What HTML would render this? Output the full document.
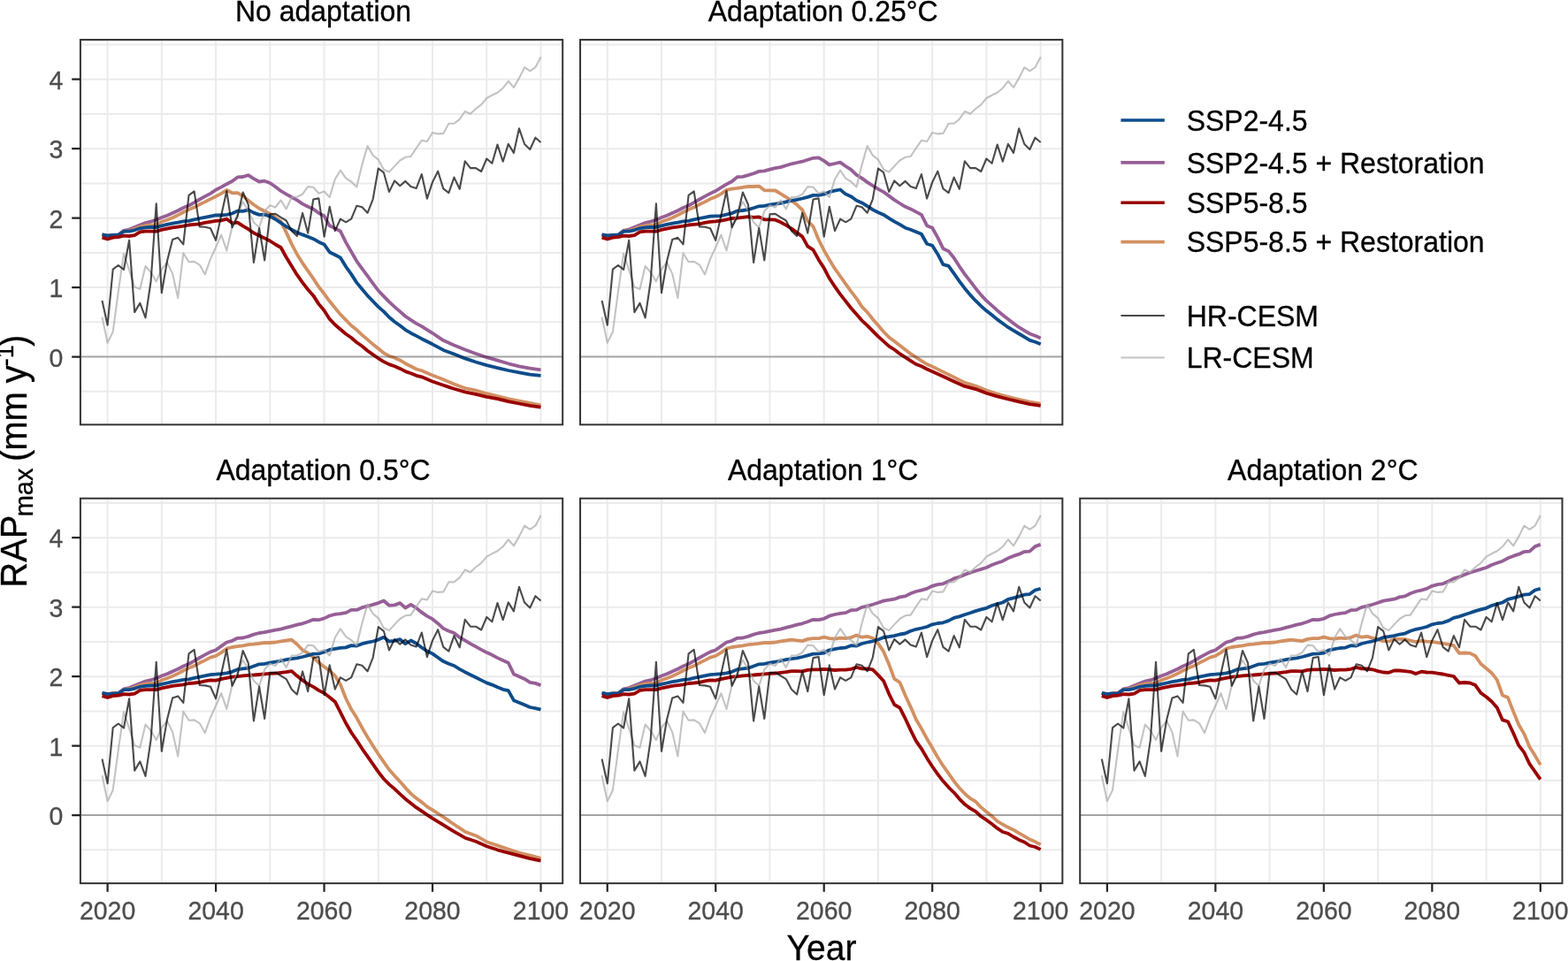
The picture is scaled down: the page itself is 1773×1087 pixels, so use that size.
<!DOCTYPE html><html><head><meta charset="utf-8"><style>html,body{margin:0;padding:0;background:#fff;}svg{display:block;}text{font-family:"Liberation Sans",Arial,sans-serif;stroke-width:0.3px;}</style></head><body>
<svg width="1773" height="1087" viewBox="0 0 1773 1087">
<rect width="1773" height="1087" fill="#fff"/>
<g>
<clipPath id="cp0"><rect x="90.9" y="44.94" width="545.3" height="435.4"/></clipPath>
<path d="M121.60,44.94V480.34M182.84,44.94V480.34M244.08,44.94V480.34M305.32,44.94V480.34M366.56,44.94V480.34M427.80,44.94V480.34M489.04,44.94V480.34M550.28,44.94V480.34M611.52,44.94V480.34M90.9,442.81H636.20M90.9,403.58H636.20M90.9,364.34H636.20M90.9,325.11H636.20M90.9,285.88H636.20M90.9,246.64H636.20M90.9,207.40H636.20M90.9,168.17H636.20M90.9,128.94H636.20M90.9,89.70H636.20M90.9,50.46H636.20" stroke="#ebebeb" stroke-width="2" fill="none"/>
<g clip-path="url(#cp0)" fill="none" stroke-linejoin="round" stroke-linecap="butt">
<polyline points="115.5,265.3 121.6,266.6 127.7,265.9 133.8,265.5 140.0,260.8 146.1,259.5 152.2,257.0 158.3,254.5 164.5,252.1 170.6,250.6 176.7,248.7 182.8,246.0 189.0,243.7 195.1,241.0 201.2,238.2 207.3,235.0 213.5,232.5 219.6,229.1 225.7,225.5 231.8,222.2 238.0,218.9 244.1,214.7 250.2,211.6 256.3,208.2 262.5,205.0 268.6,200.4 274.7,200.0 280.8,198.1 286.9,202.1 293.1,205.5 299.2,204.7 305.3,207.0 311.4,211.3 317.6,216.0 323.7,219.7 329.8,223.0 335.9,226.4 342.1,230.6 348.2,233.8 354.3,236.4 360.4,241.1 366.6,244.3 372.7,255.3 378.8,258.4 384.9,261.5 391.1,274.1 397.2,284.7 403.3,295.3 409.4,303.8 415.6,312.2 421.7,320.6 427.8,328.7 433.9,335.1 440.0,341.4 446.2,347.1 452.3,352.4 458.4,357.7 464.5,361.9 470.7,365.9 476.8,369.1 489.0,376.8 501.3,385.1 513.5,390.5 525.8,395.5 538.0,400.0 550.3,404.2 562.5,407.7 574.8,411.3 587.0,414.3 599.3,416.7 611.5,418.4" stroke="#965f96" stroke-width="3.8"/>
<polyline points="115.5,265.5 121.6,266.6 127.7,265.9 133.8,265.9 140.0,261.7 146.1,260.8 152.2,258.8 158.3,256.6 164.5,255.0 170.6,254.5 176.7,254.1 182.8,250.8 189.0,248.7 195.1,246.2 201.2,243.3 207.3,240.0 213.5,237.1 219.6,234.6 225.7,231.3 231.8,228.4 238.0,225.1 244.1,222.2 250.2,218.9 256.3,215.0 262.5,218.3 268.6,218.1 274.7,221.6 280.8,226.6 286.9,231.5 293.1,235.7 299.2,238.8 305.3,241.9 311.4,245.9 317.6,250.6 323.7,262.9 329.8,276.1 335.9,287.7 342.1,297.6 348.2,306.3 354.3,315.1 360.4,324.5 366.6,332.3 372.7,340.8 378.8,348.2 384.9,355.6 391.1,361.9 397.2,368.3 403.3,373.1 409.4,378.9 415.6,384.1 421.7,389.4 427.8,394.2 433.9,399.3 440.0,402.7 446.2,404.8 452.3,407.4 458.4,411.2 464.5,414.2 470.7,417.5 476.8,419.3 489.0,424.4 501.3,429.2 513.5,434.5 525.8,439.0 538.0,441.6 550.3,445.2 562.5,448.2 574.8,451.1 587.0,453.5 599.3,455.9 611.5,458.3" stroke="#d29062" stroke-width="3.8"/>
<polyline points="115.5,265.3 121.6,266.6 127.7,265.9 133.8,265.9 140.0,261.7 146.1,261.7 152.2,260.3 158.3,258.3 164.5,257.4 170.6,257.0 176.7,257.0 182.8,255.4 189.0,253.9 195.1,252.6 201.2,251.6 207.3,250.4 213.5,249.8 219.6,248.3 225.7,247.0 231.8,245.8 238.0,244.6 244.1,243.3 250.2,243.5 256.3,242.9 262.5,241.5 268.6,238.6 274.7,238.8 280.8,237.3 286.9,240.6 293.1,242.9 299.2,242.7 305.3,244.6 311.4,248.0 317.6,252.1 323.7,256.3 329.8,259.6 335.9,262.9 342.1,265.4 348.2,267.7 354.3,270.2 360.4,273.7 366.6,276.5 372.7,285.2 378.8,288.2 384.9,291.4 391.1,301.6 397.2,310.1 403.3,319.6 409.4,327.0 415.6,334.4 421.7,340.8 427.8,347.1 433.9,352.4 440.0,358.8 446.2,364.0 452.3,368.3 458.4,373.1 464.5,376.7 470.7,379.9 476.8,383.2 489.0,389.3 501.3,395.9 513.5,400.6 525.8,405.4 538.0,409.5 550.3,413.1 562.5,416.1 574.8,419.0 587.0,421.4 599.3,423.6 611.5,424.8" stroke="#0e4c8b" stroke-width="3.8"/>
<polyline points="115.5,268.6 121.6,270.5 127.7,268.6 133.8,268.2 140.0,266.7 146.1,267.0 152.2,266.1 158.3,262.4 164.5,261.7 170.6,261.7 176.7,261.7 182.8,259.9 189.0,258.6 195.1,257.4 201.2,256.6 207.3,255.7 213.5,254.5 219.6,253.9 225.7,253.3 231.8,251.8 238.0,250.8 244.1,249.8 250.2,249.3 256.3,247.7 262.5,252.3 268.6,251.7 274.7,255.7 280.8,259.2 286.9,263.5 293.1,266.6 299.2,269.4 305.3,272.5 311.4,276.5 317.6,280.0 323.7,291.0 329.8,301.0 335.9,310.9 342.1,319.6 348.2,327.5 354.3,334.4 360.4,343.9 366.6,351.3 372.7,360.9 378.8,367.2 384.9,372.5 391.1,377.8 397.2,382.0 403.3,387.3 409.4,391.5 415.6,396.8 421.7,401.1 427.8,405.3 433.9,409.1 440.0,412.1 446.2,414.2 452.3,416.9 458.4,420.1 464.5,422.2 470.7,424.8 476.8,426.3 489.0,431.5 501.3,435.7 513.5,439.8 525.8,443.4 538.0,445.8 550.3,448.8 562.5,451.1 574.8,454.1 587.0,456.5 599.3,458.9 611.5,460.6" stroke="#990000" stroke-width="3.8"/>
<polyline points="115.5,358.6 121.6,387.7 127.7,375.2 133.8,329.6 140.0,286.7 146.1,305.5 152.2,324.6 158.3,327.1 164.5,301.0 170.6,308.0 176.7,318.4 182.8,304.7 189.0,296.9 195.1,309.6 201.2,336.9 207.3,286.3 213.5,296.3 219.6,295.9 225.7,299.6 231.8,310.4 238.0,292.9 244.1,279.7 250.2,265.6 256.3,283.5 262.5,256.4 268.6,242.3 274.7,228.2 280.8,238.2 286.9,251.4 293.1,257.2 299.2,238.8 305.3,232.3 311.4,234.5 317.6,226.5 323.7,236.4 329.8,223.0 335.9,222.7 342.1,219.7 348.2,211.1 354.3,211.8 360.4,218.8 366.6,216.5 372.7,223.1 378.8,202.7 384.9,192.7 391.1,201.7 397.2,205.5 403.3,211.6 409.4,186.4 415.6,165.1 421.7,175.6 427.8,180.6 433.9,191.7 440.0,194.5 446.2,187.9 452.3,181.5 458.4,177.8 464.5,177.0 470.7,167.6 476.8,158.8 482.9,160.0 489.0,150.0 495.2,151.4 501.3,150.9 507.4,139.8 513.5,139.8 519.7,134.9 525.8,126.0 531.9,128.8 538.0,123.0 544.2,118.3 550.3,111.0 556.4,107.7 562.5,104.8 568.7,99.7 574.8,91.8 580.9,98.9 587.0,88.4 593.1,76.2 599.3,80.3 605.4,76.2 611.5,64.6" stroke="#aaaaaa" stroke-opacity="0.7" stroke-width="2.1"/>
<polyline points="115.5,340.0 121.6,367.7 127.7,304.7 133.8,300.0 140.0,305.0 146.1,271.8 152.2,353.1 158.3,342.8 164.5,359.4 170.6,318.0 176.7,230.2 182.8,331.2 189.0,295.3 195.1,271.0 201.2,268.8 207.3,276.4 213.5,220.8 219.6,216.4 225.7,256.4 231.8,256.8 238.0,258.2 244.1,271.8 250.2,243.5 256.3,216.0 262.5,257.2 268.6,244.8 274.7,217.5 280.8,231.5 286.9,297.0 293.1,258.0 299.2,294.5 305.3,242.2 311.4,241.9 317.6,245.9 323.7,249.5 329.8,261.2 335.9,267.0 342.1,240.9 348.2,263.7 354.3,225.5 360.4,224.4 366.6,267.7 372.7,233.7 378.8,261.1 384.9,247.7 391.1,251.3 397.2,247.7 403.3,232.8 409.4,234.2 415.6,240.8 421.7,225.3 427.8,190.5 433.9,195.2 440.0,217.0 446.2,204.4 452.3,210.2 458.4,204.9 464.5,211.1 470.7,213.1 476.8,197.0 482.9,224.6 489.0,206.1 495.2,193.7 501.3,213.4 507.4,218.2 513.5,200.6 519.7,213.8 525.8,182.3 531.9,190.1 538.0,190.1 544.2,194.0 550.3,179.5 556.4,184.8 562.5,163.6 568.7,182.7 574.8,162.9 580.9,172.9 587.0,145.3 593.1,163.0 599.3,169.0 605.4,155.7 611.5,161.0" stroke="#000000" stroke-opacity="0.71" stroke-width="2.1"/>
</g>
<path d="M90.9,403.58H636.20" stroke="#000" stroke-opacity="0.3" stroke-width="2" fill="none"/>
<rect x="90.9" y="44.94" width="545.3" height="435.4" fill="none" stroke="#333" stroke-width="2"/>
<text transform="translate(365.5,24.3) scale(1,1.04)" font-size="32" text-anchor="middle" fill="#000" stroke="#000">No adaptation</text>
<text transform="translate(71.4,414.8) scale(1,1.035)" font-size="28.5" text-anchor="end" fill="#4d4d4d" stroke="#4d4d4d">0</text>
<text transform="translate(71.4,336.3) scale(1,1.035)" font-size="28.5" text-anchor="end" fill="#4d4d4d" stroke="#4d4d4d">1</text>
<text transform="translate(71.4,257.8) scale(1,1.035)" font-size="28.5" text-anchor="end" fill="#4d4d4d" stroke="#4d4d4d">2</text>
<text transform="translate(71.4,179.4) scale(1,1.035)" font-size="28.5" text-anchor="end" fill="#4d4d4d" stroke="#4d4d4d">3</text>
<text transform="translate(71.4,100.9) scale(1,1.035)" font-size="28.5" text-anchor="end" fill="#4d4d4d" stroke="#4d4d4d">4</text>
<path d="M81.2,403.58H90.9M81.2,325.11H90.9M81.2,246.64H90.9M81.2,168.17H90.9M81.2,89.70H90.9" stroke="#222" stroke-width="2.2"/>
</g>
<g>
<clipPath id="cp1"><rect x="656.05" y="44.94" width="545.3" height="435.4"/></clipPath>
<path d="M686.75,44.94V480.34M747.99,44.94V480.34M809.23,44.94V480.34M870.47,44.94V480.34M931.71,44.94V480.34M992.95,44.94V480.34M1054.19,44.94V480.34M1115.43,44.94V480.34M1176.67,44.94V480.34M656.05,442.81H1201.35M656.05,403.58H1201.35M656.05,364.34H1201.35M656.05,325.11H1201.35M656.05,285.88H1201.35M656.05,246.64H1201.35M656.05,207.40H1201.35M656.05,168.17H1201.35M656.05,128.94H1201.35M656.05,89.70H1201.35M656.05,50.46H1201.35" stroke="#ebebeb" stroke-width="2" fill="none"/>
<g clip-path="url(#cp1)" fill="none" stroke-linejoin="round" stroke-linecap="butt">
<polyline points="680.6,265.3 686.8,266.6 692.9,265.9 699.0,265.5 705.1,260.8 711.2,259.5 717.4,257.0 723.5,254.5 729.6,252.1 735.7,250.6 741.9,248.7 748.0,246.0 754.1,243.7 760.2,241.0 766.4,238.2 772.5,235.0 778.6,232.5 784.7,229.1 790.9,225.5 797.0,222.2 803.1,218.9 809.2,216.0 815.4,212.1 821.5,208.4 827.6,205.2 833.7,200.1 839.9,199.8 846.0,198.1 852.1,196.2 858.2,193.9 864.3,193.4 870.5,191.7 876.6,190.1 882.7,189.1 888.8,187.2 895.0,185.3 901.1,184.0 907.2,182.7 913.3,180.8 919.5,178.8 925.6,178.4 931.7,181.9 937.8,186.4 944.0,185.0 950.1,183.6 956.2,188.0 962.3,191.9 968.5,197.8 974.6,201.6 980.7,206.1 986.8,210.0 993.0,213.8 999.1,217.1 1005.2,221.6 1011.3,226.1 1017.4,230.0 1023.6,233.8 1029.7,236.4 1035.8,239.7 1041.9,242.9 1048.1,255.2 1054.2,257.8 1060.3,268.6 1066.4,281.2 1072.6,284.1 1078.7,291.8 1084.8,301.3 1090.9,310.1 1097.1,318.2 1103.2,326.2 1109.3,333.6 1115.4,340.2 1121.6,345.7 1127.7,351.2 1133.8,356.3 1139.9,361.0 1146.0,365.8 1152.2,370.2 1158.3,373.9 1164.4,377.5 1170.5,379.7 1176.7,382.4" stroke="#965f96" stroke-width="3.8"/>
<polyline points="680.6,265.5 686.8,266.6 692.9,265.9 699.0,265.9 705.1,261.7 711.2,260.8 717.4,258.8 723.5,256.6 729.6,255.0 735.7,254.5 741.9,254.1 748.0,250.8 754.1,248.7 760.2,246.2 766.4,243.3 772.5,240.0 778.6,237.1 784.7,234.6 790.9,231.3 797.0,228.4 803.1,225.1 809.2,222.7 815.4,219.3 821.5,214.9 827.6,213.6 833.7,212.9 839.9,211.9 846.0,211.0 852.1,211.0 858.2,210.6 864.3,215.3 870.5,215.3 876.6,215.5 882.7,219.1 888.8,222.9 895.0,226.9 901.1,231.6 907.2,237.4 913.3,250.2 919.5,256.1 925.6,271.0 931.7,283.1 937.8,293.7 944.0,303.9 950.1,312.5 956.2,321.1 962.3,329.7 968.5,337.6 974.6,346.9 980.7,353.2 986.8,361.0 993.0,368.1 999.1,375.2 1005.2,381.5 1011.3,386.1 1017.4,390.8 1023.6,395.5 1029.7,400.2 1035.8,404.1 1041.9,408.1 1048.1,412.0 1054.2,414.6 1066.4,420.6 1078.7,426.6 1090.9,432.9 1103.2,436.5 1115.4,441.6 1127.7,445.6 1139.9,448.8 1152.2,451.9 1164.4,454.7 1176.7,456.7" stroke="#d29062" stroke-width="3.8"/>
<polyline points="680.6,265.3 686.8,266.6 692.9,265.9 699.0,265.9 705.1,261.7 711.2,261.7 717.4,260.3 723.5,258.3 729.6,257.4 735.7,257.0 741.9,257.0 748.0,255.4 754.1,253.9 760.2,252.6 766.4,251.6 772.5,250.4 778.6,249.8 784.7,248.3 790.9,247.0 797.0,245.8 803.1,244.6 809.2,244.3 815.4,244.1 821.5,242.6 827.6,241.2 833.7,238.6 839.9,238.0 846.0,237.1 852.1,235.2 858.2,233.3 864.3,232.9 870.5,231.6 876.6,230.7 882.7,229.9 888.8,228.4 895.0,226.9 901.1,225.8 907.2,224.5 913.3,222.9 919.5,220.9 925.6,220.9 931.7,219.7 937.8,217.2 944.0,215.7 950.1,214.5 956.2,219.6 962.3,222.2 968.5,226.8 974.6,229.4 980.7,233.2 986.8,237.1 993.0,240.3 999.1,242.9 1005.2,246.8 1011.3,250.6 1017.4,253.9 1023.6,257.7 1029.7,259.7 1035.8,262.3 1041.9,264.8 1048.1,275.8 1054.2,277.8 1060.3,287.4 1066.4,299.1 1072.6,300.9 1078.7,309.4 1084.8,318.2 1090.9,326.2 1097.1,333.6 1103.2,340.2 1109.3,346.1 1115.4,351.6 1121.6,356.3 1127.7,361.4 1133.8,365.8 1139.9,370.2 1146.0,373.9 1152.2,377.5 1158.3,381.2 1164.4,384.9 1170.5,386.8 1176.7,389.3" stroke="#0e4c8b" stroke-width="3.8"/>
<polyline points="680.6,268.6 686.8,270.5 692.9,268.6 699.0,268.2 705.1,266.7 711.2,267.0 717.4,266.1 723.5,262.4 729.6,261.7 735.7,261.7 741.9,261.7 748.0,259.9 754.1,258.6 760.2,257.4 766.4,256.6 772.5,255.7 778.6,254.5 784.7,253.9 790.9,253.3 797.0,251.8 803.1,250.8 809.2,250.3 815.4,249.6 821.5,248.3 827.6,247.0 833.7,246.6 839.9,245.8 846.0,245.1 852.1,245.8 858.2,245.4 864.3,248.3 870.5,248.3 876.6,248.7 882.7,251.3 888.8,254.7 895.0,258.6 901.1,263.1 907.2,267.6 913.3,278.6 919.5,282.6 925.6,293.7 931.7,303.1 937.8,314.8 944.0,324.2 950.1,332.9 956.2,340.7 962.3,348.5 968.5,355.6 974.6,362.6 980.7,368.1 986.8,374.4 993.0,380.7 999.1,386.1 1005.2,391.6 1011.3,395.5 1017.4,400.2 1023.6,404.1 1029.7,408.1 1035.8,412.0 1041.9,414.3 1048.1,417.5 1054.2,420.2 1066.4,425.8 1078.7,431.4 1090.9,436.9 1103.2,440.1 1115.4,444.8 1127.7,448.4 1139.9,451.5 1152.2,454.3 1164.4,457.1 1176.7,458.9" stroke="#990000" stroke-width="3.8"/>
<polyline points="680.6,358.6 686.8,387.7 692.9,375.2 699.0,329.6 705.1,286.7 711.2,305.5 717.4,324.6 723.5,327.1 729.6,301.0 735.7,308.0 741.9,318.4 748.0,304.7 754.1,296.9 760.2,309.6 766.4,336.9 772.5,286.3 778.6,296.3 784.7,295.9 790.9,299.6 797.0,310.4 803.1,292.9 809.2,279.7 815.4,265.6 821.5,283.5 827.6,256.4 833.7,242.3 839.9,228.2 846.0,238.2 852.1,251.4 858.2,257.2 864.3,238.8 870.5,232.3 876.6,234.5 882.7,226.5 888.8,236.4 895.0,223.0 901.1,222.7 907.2,219.7 913.3,211.1 919.5,211.8 925.6,218.8 931.7,216.5 937.8,223.1 944.0,202.7 950.1,192.7 956.2,201.7 962.3,205.5 968.5,211.6 974.6,186.4 980.7,165.1 986.8,175.6 993.0,180.6 999.1,191.7 1005.2,194.5 1011.3,187.9 1017.4,181.5 1023.6,177.8 1029.7,177.0 1035.8,167.6 1041.9,158.8 1048.1,160.0 1054.2,150.0 1060.3,151.4 1066.4,150.9 1072.6,139.8 1078.7,139.8 1084.8,134.9 1090.9,126.0 1097.1,128.8 1103.2,123.0 1109.3,118.3 1115.4,111.0 1121.6,107.7 1127.7,104.8 1133.8,99.7 1139.9,91.8 1146.0,98.9 1152.2,88.4 1158.3,76.2 1164.4,80.3 1170.5,76.2 1176.7,64.6" stroke="#aaaaaa" stroke-opacity="0.7" stroke-width="2.1"/>
<polyline points="680.6,340.0 686.8,367.7 692.9,304.7 699.0,300.0 705.1,305.0 711.2,271.8 717.4,353.1 723.5,342.8 729.6,359.4 735.7,318.0 741.9,230.2 748.0,331.2 754.1,295.3 760.2,271.0 766.4,268.8 772.5,276.4 778.6,220.8 784.7,216.4 790.9,256.4 797.0,256.8 803.1,258.2 809.2,271.8 815.4,243.5 821.5,216.0 827.6,257.2 833.7,244.8 839.9,217.5 846.0,231.5 852.1,297.0 858.2,258.0 864.3,294.5 870.5,242.2 876.6,241.9 882.7,245.9 888.8,249.5 895.0,261.2 901.1,267.0 907.2,240.9 913.3,263.7 919.5,225.5 925.6,224.4 931.7,267.7 937.8,233.7 944.0,261.1 950.1,247.7 956.2,251.3 962.3,247.7 968.5,232.8 974.6,234.2 980.7,240.8 986.8,225.3 993.0,190.5 999.1,195.2 1005.2,217.0 1011.3,204.4 1017.4,210.2 1023.6,204.9 1029.7,211.1 1035.8,213.1 1041.9,197.0 1048.1,224.6 1054.2,206.1 1060.3,193.7 1066.4,213.4 1072.6,218.2 1078.7,200.6 1084.8,213.8 1090.9,182.3 1097.1,190.1 1103.2,190.1 1109.3,194.0 1115.4,179.5 1121.6,184.8 1127.7,163.6 1133.8,182.7 1139.9,162.9 1146.0,172.9 1152.2,145.3 1158.3,163.0 1164.4,169.0 1170.5,155.7 1176.7,161.0" stroke="#000000" stroke-opacity="0.71" stroke-width="2.1"/>
</g>
<path d="M656.05,403.58H1201.35" stroke="#000" stroke-opacity="0.3" stroke-width="2" fill="none"/>
<rect x="656.05" y="44.94" width="545.3" height="435.4" fill="none" stroke="#333" stroke-width="2"/>
<text transform="translate(930.7,24.3) scale(1,1.04)" font-size="32" text-anchor="middle" fill="#000" stroke="#000">Adaptation 0.25°C</text>
</g>
<g>
<clipPath id="cp2"><rect x="90.9" y="563.74" width="545.3" height="435.4"/></clipPath>
<path d="M121.60,563.74V999.14M182.84,563.74V999.14M244.08,563.74V999.14M305.32,563.74V999.14M366.56,563.74V999.14M427.80,563.74V999.14M489.04,563.74V999.14M550.28,563.74V999.14M611.52,563.74V999.14M90.9,961.34H636.20M90.9,922.10H636.20M90.9,882.87H636.20M90.9,843.63H636.20M90.9,804.39H636.20M90.9,765.16H636.20M90.9,725.92H636.20M90.9,686.69H636.20M90.9,647.46H636.20M90.9,608.22H636.20M90.9,568.99H636.20" stroke="#ebebeb" stroke-width="2" fill="none"/>
<g clip-path="url(#cp2)" fill="none" stroke-linejoin="round" stroke-linecap="butt">
<polyline points="115.5,783.8 121.6,785.1 127.7,784.4 133.8,784.0 140.0,779.3 146.1,778.0 152.2,775.5 158.3,773.0 164.5,770.6 170.6,769.2 176.7,767.2 182.8,764.5 189.0,762.3 195.1,759.5 201.2,756.7 207.3,753.5 213.5,751.0 219.6,747.6 225.7,744.0 231.8,740.7 238.0,737.4 244.1,735.3 250.2,730.9 256.3,726.5 262.5,724.8 268.6,721.8 274.7,721.5 280.8,719.9 286.9,717.6 293.1,716.0 299.2,715.2 305.3,713.8 311.4,712.7 317.6,711.6 323.7,709.9 329.8,708.3 335.9,706.6 342.1,705.3 348.2,703.2 354.3,700.8 360.4,701.2 366.6,699.4 372.7,696.5 378.8,694.9 384.9,694.1 391.1,693.1 397.2,689.9 403.3,689.9 409.4,687.2 415.6,685.7 421.7,683.9 427.8,682.1 433.9,679.5 440.0,684.8 446.2,684.4 452.3,682.1 458.4,687.6 464.5,683.9 470.7,687.6 476.8,692.7 482.9,696.8 489.0,700.2 495.2,705.2 501.3,710.9 507.4,713.8 513.5,716.0 519.7,721.0 525.8,724.3 531.9,728.1 538.0,731.4 544.2,734.8 550.3,738.1 556.4,740.8 562.5,744.1 568.7,747.0 574.8,749.7 580.9,762.4 587.0,765.2 593.1,767.9 599.3,771.8 605.4,772.9 611.5,775.1" stroke="#965f96" stroke-width="3.8"/>
<polyline points="115.5,784.0 121.6,785.1 127.7,784.4 133.8,784.4 140.0,780.2 146.1,779.3 152.2,777.3 158.3,775.1 164.5,773.5 170.6,773.0 176.7,772.6 182.8,769.3 189.0,767.2 195.1,764.8 201.2,761.9 207.3,758.5 213.5,755.6 219.6,753.2 225.7,749.8 231.8,746.9 238.0,743.6 244.1,741.9 250.2,738.1 256.3,733.7 262.5,732.0 268.6,731.1 274.7,730.3 280.8,729.2 286.9,728.7 293.1,727.8 299.2,727.0 305.3,727.0 311.4,726.5 317.6,725.4 323.7,724.5 329.8,723.7 335.9,728.7 342.1,735.3 348.2,738.6 354.3,743.6 360.4,749.5 366.6,754.2 372.7,758.6 378.8,764.4 384.9,774.3 391.1,790.0 397.2,802.3 403.3,811.8 409.4,823.2 415.6,833.7 421.7,843.4 427.8,853.0 433.9,861.8 440.0,870.5 446.2,877.5 452.3,884.1 458.4,891.1 464.5,897.6 470.7,902.9 476.8,907.3 482.9,912.4 489.0,916.2 501.3,924.1 513.5,932.5 525.8,940.7 538.0,945.2 550.3,952.2 562.5,956.4 574.8,960.5 587.0,964.6 599.3,967.5 611.5,970.8" stroke="#d29062" stroke-width="3.8"/>
<polyline points="115.5,783.8 121.6,785.1 127.7,784.4 133.8,784.4 140.0,780.2 146.1,780.2 152.2,778.8 158.3,776.8 164.5,775.9 170.6,775.5 176.7,775.5 182.8,773.9 189.0,772.5 195.1,771.1 201.2,770.1 207.3,768.9 213.5,768.3 219.6,766.8 225.7,765.6 231.8,764.3 238.0,763.1 244.1,762.7 250.2,762.1 256.3,761.3 262.5,759.8 268.6,757.2 274.7,756.3 280.8,755.7 286.9,753.5 293.1,751.3 299.2,750.8 305.3,749.7 311.4,748.6 317.6,747.5 323.7,746.2 329.8,745.2 335.9,744.4 342.1,743.0 348.2,741.4 354.3,739.7 360.4,739.4 366.6,737.5 372.7,734.9 378.8,733.8 384.9,732.8 391.1,732.4 397.2,730.1 403.3,730.6 409.4,728.2 415.6,726.6 421.7,725.5 427.8,723.6 433.9,720.8 440.0,725.5 446.2,724.8 452.3,723.2 458.4,728.2 464.5,724.5 470.7,727.8 476.8,732.4 482.9,736.5 489.0,739.4 495.2,743.7 501.3,748.1 507.4,750.8 513.5,753.0 519.7,756.8 525.8,760.2 531.9,763.2 538.0,766.3 544.2,769.4 550.3,772.4 556.4,774.6 562.5,777.3 568.7,779.8 574.8,781.2 580.9,792.2 587.0,794.7 593.1,797.2 599.3,800.0 605.4,801.1 611.5,802.7" stroke="#0e4c8b" stroke-width="3.8"/>
<polyline points="115.5,787.1 121.6,789.0 127.7,787.1 133.8,786.7 140.0,785.2 146.1,785.5 152.2,784.6 158.3,780.9 164.5,780.2 170.6,780.2 176.7,780.2 182.8,778.4 189.0,777.2 195.1,775.9 201.2,775.1 207.3,774.3 213.5,773.0 219.6,772.5 225.7,771.8 231.8,770.3 238.0,769.3 244.1,769.6 250.2,768.2 256.3,766.8 262.5,765.7 268.6,765.2 274.7,764.3 280.8,763.8 286.9,763.5 293.1,763.0 299.2,762.4 305.3,761.9 311.4,761.6 317.6,760.8 323.7,760.2 329.8,759.1 335.9,764.6 342.1,769.4 348.2,773.8 354.3,776.9 360.4,780.9 366.6,784.1 372.7,788.7 378.8,793.7 384.9,805.7 391.1,818.0 397.2,828.5 403.3,837.3 409.4,846.8 415.6,855.6 421.7,864.3 427.8,873.1 433.9,881.0 440.0,887.1 446.2,892.4 452.3,898.2 458.4,903.7 464.5,908.6 470.7,913.4 476.8,917.4 482.9,921.6 489.0,925.7 501.3,933.2 513.5,940.7 525.8,947.7 538.0,951.8 550.3,957.2 562.5,961.3 574.8,964.6 587.0,967.9 599.3,971.2 611.5,973.7" stroke="#990000" stroke-width="3.8"/>
<polyline points="115.5,877.1 121.6,906.2 127.7,893.7 133.8,848.1 140.0,805.2 146.1,824.0 152.2,843.1 158.3,845.6 164.5,819.5 170.6,826.5 176.7,837.0 182.8,823.2 189.0,815.4 195.1,828.1 201.2,855.4 207.3,804.9 213.5,814.8 219.6,814.4 225.7,818.1 231.8,828.9 238.0,811.5 244.1,798.2 250.2,784.1 256.3,802.0 262.5,775.0 268.6,760.8 274.7,746.7 280.8,756.7 286.9,769.9 293.1,775.8 299.2,757.3 305.3,750.8 311.4,753.0 317.6,745.0 323.7,754.9 329.8,741.5 335.9,741.2 342.1,738.2 348.2,729.6 354.3,730.3 360.4,737.3 366.6,735.0 372.7,741.6 378.8,721.2 384.9,711.2 391.1,720.2 397.2,724.0 403.3,730.1 409.4,704.9 415.6,683.6 421.7,694.1 427.8,699.1 433.9,710.2 440.0,713.1 446.2,706.4 452.3,700.0 458.4,696.3 464.5,695.6 470.7,686.1 476.8,677.4 482.9,678.5 489.0,668.5 495.2,669.9 501.3,669.4 507.4,658.4 513.5,658.4 519.7,653.4 525.8,644.5 531.9,647.3 538.0,641.5 544.2,636.9 550.3,629.6 556.4,626.3 562.5,623.3 568.7,618.3 574.8,610.3 580.9,617.4 587.0,606.9 593.1,594.7 599.3,598.8 605.4,594.7 611.5,583.1" stroke="#aaaaaa" stroke-opacity="0.7" stroke-width="2.1"/>
<polyline points="115.5,858.5 121.6,886.2 127.7,823.2 133.8,818.5 140.0,823.5 146.1,790.3 152.2,871.6 158.3,861.4 164.5,877.9 170.6,836.6 176.7,748.7 182.8,849.8 189.0,813.8 195.1,789.6 201.2,787.4 207.3,794.9 213.5,739.3 219.6,734.9 225.7,775.0 231.8,775.4 238.0,776.7 244.1,790.3 250.2,762.0 256.3,734.6 262.5,775.8 268.6,763.4 274.7,736.0 280.8,750.0 286.9,815.5 293.1,776.5 299.2,813.0 305.3,760.7 311.4,760.5 317.6,764.4 323.7,768.1 329.8,779.7 335.9,785.5 342.1,759.4 348.2,782.2 354.3,744.1 360.4,743.0 366.6,786.2 372.7,752.2 378.8,779.6 384.9,766.3 391.1,769.9 397.2,766.3 403.3,751.3 409.4,752.7 415.6,759.3 421.7,743.8 427.8,709.1 433.9,713.8 440.0,735.5 446.2,722.9 452.3,728.7 458.4,723.4 464.5,729.6 470.7,731.6 476.8,715.5 482.9,743.1 489.0,724.6 495.2,712.2 501.3,731.9 507.4,736.7 513.5,719.1 519.7,732.3 525.8,700.8 531.9,708.7 538.0,708.7 544.2,712.5 550.3,698.0 556.4,703.3 562.5,682.1 568.7,701.2 574.8,681.4 580.9,691.4 587.0,663.8 593.1,681.5 599.3,687.5 605.4,674.2 611.5,679.5" stroke="#000000" stroke-opacity="0.71" stroke-width="2.1"/>
</g>
<path d="M90.9,922.10H636.20" stroke="#000" stroke-opacity="0.3" stroke-width="2" fill="none"/>
<rect x="90.9" y="563.74" width="545.3" height="435.4" fill="none" stroke="#333" stroke-width="2"/>
<text transform="translate(365.5,543.1) scale(1,1.04)" font-size="32" text-anchor="middle" fill="#000" stroke="#000">Adaptation 0.5°C</text>
<text transform="translate(71.4,933.3) scale(1,1.035)" font-size="28.5" text-anchor="end" fill="#4d4d4d" stroke="#4d4d4d">0</text>
<text transform="translate(71.4,854.8) scale(1,1.035)" font-size="28.5" text-anchor="end" fill="#4d4d4d" stroke="#4d4d4d">1</text>
<text transform="translate(71.4,776.4) scale(1,1.035)" font-size="28.5" text-anchor="end" fill="#4d4d4d" stroke="#4d4d4d">2</text>
<text transform="translate(71.4,697.9) scale(1,1.035)" font-size="28.5" text-anchor="end" fill="#4d4d4d" stroke="#4d4d4d">3</text>
<text transform="translate(71.4,619.4) scale(1,1.035)" font-size="28.5" text-anchor="end" fill="#4d4d4d" stroke="#4d4d4d">4</text>
<path d="M81.2,922.10H90.9M81.2,843.63H90.9M81.2,765.16H90.9M81.2,686.69H90.9M81.2,608.22H90.9" stroke="#222" stroke-width="2.2"/>
<text transform="translate(121.6,1039.9) scale(1,1.035)" font-size="28.5" text-anchor="middle" fill="#4d4d4d" stroke="#4d4d4d">2020</text>
<text transform="translate(244.1,1039.9) scale(1,1.035)" font-size="28.5" text-anchor="middle" fill="#4d4d4d" stroke="#4d4d4d">2040</text>
<text transform="translate(366.6,1039.9) scale(1,1.035)" font-size="28.5" text-anchor="middle" fill="#4d4d4d" stroke="#4d4d4d">2060</text>
<text transform="translate(489.0,1039.9) scale(1,1.035)" font-size="28.5" text-anchor="middle" fill="#4d4d4d" stroke="#4d4d4d">2080</text>
<text transform="translate(611.5,1039.9) scale(1,1.035)" font-size="28.5" text-anchor="middle" fill="#4d4d4d" stroke="#4d4d4d">2100</text>
<path d="M121.60,999.14v9.7M244.08,999.14v9.7M366.56,999.14v9.7M489.04,999.14v9.7M611.52,999.14v9.7" stroke="#222" stroke-width="2.2"/>
</g>
<g>
<clipPath id="cp3"><rect x="656.05" y="563.74" width="545.3" height="435.4"/></clipPath>
<path d="M686.75,563.74V999.14M747.99,563.74V999.14M809.23,563.74V999.14M870.47,563.74V999.14M931.71,563.74V999.14M992.95,563.74V999.14M1054.19,563.74V999.14M1115.43,563.74V999.14M1176.67,563.74V999.14M656.05,961.34H1201.35M656.05,922.10H1201.35M656.05,882.87H1201.35M656.05,843.63H1201.35M656.05,804.39H1201.35M656.05,765.16H1201.35M656.05,725.92H1201.35M656.05,686.69H1201.35M656.05,647.46H1201.35M656.05,608.22H1201.35M656.05,568.99H1201.35" stroke="#ebebeb" stroke-width="2" fill="none"/>
<g clip-path="url(#cp3)" fill="none" stroke-linejoin="round" stroke-linecap="butt">
<polyline points="680.6,783.8 686.8,785.1 692.9,784.4 699.0,784.0 705.1,779.3 711.2,778.0 717.4,775.5 723.5,773.0 729.6,770.6 735.7,769.2 741.9,767.2 748.0,764.5 754.1,762.3 760.2,759.5 766.4,756.7 772.5,753.5 778.6,751.0 784.7,747.6 790.9,744.0 797.0,740.7 803.1,737.4 809.2,735.3 815.4,730.9 821.5,726.5 827.6,724.8 833.7,721.8 839.9,721.5 846.0,719.9 852.1,717.6 858.2,716.0 864.3,715.2 870.5,713.8 876.6,712.7 882.7,711.6 888.8,709.9 895.0,708.3 901.1,706.6 907.2,705.3 913.3,703.2 919.5,700.8 925.6,701.2 931.7,699.8 937.8,696.7 944.0,695.0 950.1,693.9 956.2,693.1 962.3,690.2 968.5,689.9 974.6,686.9 980.7,685.6 986.8,683.7 993.0,681.8 999.1,679.6 1005.2,678.7 1011.3,677.7 1017.4,675.4 1023.6,674.4 1029.7,671.2 1035.8,669.0 1041.9,667.6 1048.1,665.9 1054.2,662.8 1060.3,661.1 1066.4,660.3 1072.6,657.6 1078.7,654.3 1084.8,652.6 1090.9,649.9 1097.1,647.7 1103.2,645.7 1109.3,643.9 1115.4,642.0 1121.6,639.0 1127.7,636.8 1133.8,634.7 1139.9,631.3 1146.0,628.9 1152.2,626.9 1158.3,624.1 1164.4,623.6 1170.5,618.1 1176.7,615.9" stroke="#965f96" stroke-width="3.8"/>
<polyline points="680.6,784.0 686.8,785.1 692.9,784.4 699.0,784.4 705.1,780.2 711.2,779.3 717.4,777.3 723.5,775.1 729.6,773.5 735.7,773.0 741.9,772.6 748.0,769.3 754.1,767.2 760.2,764.8 766.4,761.9 772.5,758.5 778.6,755.6 784.7,753.2 790.9,749.8 797.0,746.9 803.1,743.6 809.2,741.9 815.4,738.1 821.5,733.7 827.6,732.0 833.7,731.1 839.9,730.3 846.0,729.2 852.1,728.7 858.2,727.8 864.3,727.0 870.5,727.0 876.6,726.5 882.7,725.4 888.8,724.5 895.0,723.7 901.1,724.3 907.2,725.1 913.3,722.9 919.5,722.1 925.6,722.1 931.7,720.6 937.8,722.1 944.0,722.6 950.1,721.7 956.2,722.1 962.3,721.1 968.5,718.6 974.6,720.7 980.7,719.9 986.8,721.7 993.0,727.9 999.1,736.9 1005.2,751.4 1011.3,767.9 1017.4,771.8 1023.6,786.5 1029.7,799.6 1035.8,813.7 1041.9,824.1 1048.1,835.5 1054.2,846.0 1060.3,856.5 1066.4,866.2 1072.6,874.9 1078.7,883.6 1084.8,891.3 1090.9,897.7 1097.1,903.1 1103.2,906.7 1109.3,913.1 1115.4,918.2 1121.6,923.2 1127.7,928.8 1133.8,932.5 1139.9,935.8 1146.0,938.7 1152.2,942.4 1158.3,945.8 1164.4,949.5 1170.5,952.1 1176.7,955.4" stroke="#d29062" stroke-width="3.8"/>
<polyline points="680.6,783.8 686.8,785.1 692.9,784.4 699.0,784.4 705.1,780.2 711.2,780.2 717.4,778.8 723.5,776.8 729.6,775.9 735.7,775.5 741.9,775.5 748.0,773.9 754.1,772.5 760.2,771.1 766.4,770.1 772.5,768.9 778.6,768.3 784.7,766.8 790.9,765.6 797.0,764.3 803.1,763.1 809.2,762.7 815.4,762.1 821.5,761.3 827.6,759.8 833.7,757.2 839.9,756.3 846.0,755.7 852.1,753.5 858.2,751.3 864.3,750.8 870.5,749.7 876.6,748.6 882.7,747.5 888.8,746.2 895.0,745.2 901.1,744.4 907.2,743.0 913.3,741.4 919.5,739.7 925.6,739.4 931.7,738.5 937.8,735.3 944.0,734.1 950.1,733.0 956.2,732.6 962.3,730.2 968.5,730.6 974.6,728.0 980.7,726.5 986.8,725.3 993.0,723.5 999.1,721.0 1005.2,720.1 1011.3,719.1 1017.4,717.5 1023.6,716.5 1029.7,713.7 1035.8,711.8 1041.9,710.5 1048.1,709.0 1054.2,706.3 1060.3,705.0 1066.4,704.3 1072.6,702.1 1078.7,698.8 1084.8,697.4 1090.9,695.2 1097.1,693.3 1103.2,691.1 1109.3,689.4 1115.4,687.8 1121.6,685.0 1127.7,683.1 1133.8,681.5 1139.9,677.9 1146.0,676.3 1152.2,674.6 1158.3,672.7 1164.4,672.1 1170.5,667.5 1176.7,665.8" stroke="#0e4c8b" stroke-width="3.8"/>
<polyline points="680.6,787.1 686.8,789.0 692.9,787.1 699.0,786.7 705.1,785.2 711.2,785.5 717.4,784.6 723.5,780.9 729.6,780.2 735.7,780.2 741.9,780.2 748.0,778.4 754.1,777.2 760.2,775.9 766.4,775.1 772.5,774.3 778.6,773.0 784.7,772.5 790.9,771.8 797.0,770.3 803.1,769.3 809.2,769.6 815.4,768.2 821.5,766.8 827.6,765.7 833.7,765.2 839.9,764.3 846.0,763.8 852.1,763.5 858.2,763.0 864.3,762.4 870.5,761.9 876.6,761.6 882.7,760.8 888.8,760.2 895.0,759.1 901.1,759.1 907.2,759.4 913.3,757.9 919.5,757.4 925.6,757.4 931.7,756.9 937.8,757.3 944.0,758.0 950.1,757.7 956.2,757.7 962.3,756.8 968.5,754.9 974.6,756.4 980.7,756.5 986.8,757.3 993.0,763.6 999.1,770.2 1005.2,784.8 1011.3,797.0 1017.4,800.5 1023.6,812.7 1029.7,825.9 1035.8,838.1 1041.9,846.8 1048.1,857.4 1054.2,867.0 1060.3,875.7 1066.4,883.6 1072.6,890.6 1078.7,896.5 1084.8,903.6 1090.9,909.8 1097.1,914.4 1103.2,917.9 1109.3,923.5 1115.4,927.4 1121.6,932.1 1127.7,936.9 1133.8,941.0 1139.9,942.8 1146.0,946.5 1152.2,949.9 1158.3,952.5 1164.4,956.5 1170.5,958.0 1176.7,960.9" stroke="#990000" stroke-width="3.8"/>
<polyline points="680.6,877.1 686.8,906.2 692.9,893.7 699.0,848.1 705.1,805.2 711.2,824.0 717.4,843.1 723.5,845.6 729.6,819.5 735.7,826.5 741.9,837.0 748.0,823.2 754.1,815.4 760.2,828.1 766.4,855.4 772.5,804.9 778.6,814.8 784.7,814.4 790.9,818.1 797.0,828.9 803.1,811.5 809.2,798.2 815.4,784.1 821.5,802.0 827.6,775.0 833.7,760.8 839.9,746.7 846.0,756.7 852.1,769.9 858.2,775.8 864.3,757.3 870.5,750.8 876.6,753.0 882.7,745.0 888.8,754.9 895.0,741.5 901.1,741.2 907.2,738.2 913.3,729.6 919.5,730.3 925.6,737.3 931.7,735.0 937.8,741.6 944.0,721.2 950.1,711.2 956.2,720.2 962.3,724.0 968.5,730.1 974.6,704.9 980.7,683.6 986.8,694.1 993.0,699.1 999.1,710.2 1005.2,713.1 1011.3,706.4 1017.4,700.0 1023.6,696.3 1029.7,695.6 1035.8,686.1 1041.9,677.4 1048.1,678.5 1054.2,668.5 1060.3,669.9 1066.4,669.4 1072.6,658.4 1078.7,658.4 1084.8,653.4 1090.9,644.5 1097.1,647.3 1103.2,641.5 1109.3,636.9 1115.4,629.6 1121.6,626.3 1127.7,623.3 1133.8,618.3 1139.9,610.3 1146.0,617.4 1152.2,606.9 1158.3,594.7 1164.4,598.8 1170.5,594.7 1176.7,583.1" stroke="#aaaaaa" stroke-opacity="0.7" stroke-width="2.1"/>
<polyline points="680.6,858.5 686.8,886.2 692.9,823.2 699.0,818.5 705.1,823.5 711.2,790.3 717.4,871.6 723.5,861.4 729.6,877.9 735.7,836.6 741.9,748.7 748.0,849.8 754.1,813.8 760.2,789.6 766.4,787.4 772.5,794.9 778.6,739.3 784.7,734.9 790.9,775.0 797.0,775.4 803.1,776.7 809.2,790.3 815.4,762.0 821.5,734.6 827.6,775.8 833.7,763.4 839.9,736.0 846.0,750.0 852.1,815.5 858.2,776.5 864.3,813.0 870.5,760.7 876.6,760.5 882.7,764.4 888.8,768.1 895.0,779.7 901.1,785.5 907.2,759.4 913.3,782.2 919.5,744.1 925.6,743.0 931.7,786.2 937.8,752.2 944.0,779.6 950.1,766.3 956.2,769.9 962.3,766.3 968.5,751.3 974.6,752.7 980.7,759.3 986.8,743.8 993.0,709.1 999.1,713.8 1005.2,735.5 1011.3,722.9 1017.4,728.7 1023.6,723.4 1029.7,729.6 1035.8,731.6 1041.9,715.5 1048.1,743.1 1054.2,724.6 1060.3,712.2 1066.4,731.9 1072.6,736.7 1078.7,719.1 1084.8,732.3 1090.9,700.8 1097.1,708.7 1103.2,708.7 1109.3,712.5 1115.4,698.0 1121.6,703.3 1127.7,682.1 1133.8,701.2 1139.9,681.4 1146.0,691.4 1152.2,663.8 1158.3,681.5 1164.4,687.5 1170.5,674.2 1176.7,679.5" stroke="#000000" stroke-opacity="0.71" stroke-width="2.1"/>
</g>
<path d="M656.05,922.10H1201.35" stroke="#000" stroke-opacity="0.3" stroke-width="2" fill="none"/>
<rect x="656.05" y="563.74" width="545.3" height="435.4" fill="none" stroke="#333" stroke-width="2"/>
<text transform="translate(930.7,543.1) scale(1,1.04)" font-size="32" text-anchor="middle" fill="#000" stroke="#000">Adaptation 1°C</text>
<text transform="translate(686.8,1039.9) scale(1,1.035)" font-size="28.5" text-anchor="middle" fill="#4d4d4d" stroke="#4d4d4d">2020</text>
<text transform="translate(809.2,1039.9) scale(1,1.035)" font-size="28.5" text-anchor="middle" fill="#4d4d4d" stroke="#4d4d4d">2040</text>
<text transform="translate(931.7,1039.9) scale(1,1.035)" font-size="28.5" text-anchor="middle" fill="#4d4d4d" stroke="#4d4d4d">2060</text>
<text transform="translate(1054.2,1039.9) scale(1,1.035)" font-size="28.5" text-anchor="middle" fill="#4d4d4d" stroke="#4d4d4d">2080</text>
<text transform="translate(1176.7,1039.9) scale(1,1.035)" font-size="28.5" text-anchor="middle" fill="#4d4d4d" stroke="#4d4d4d">2100</text>
<path d="M686.75,999.14v9.7M809.23,999.14v9.7M931.71,999.14v9.7M1054.19,999.14v9.7M1176.67,999.14v9.7" stroke="#222" stroke-width="2.2"/>
</g>
<g>
<clipPath id="cp4"><rect x="1221.2" y="563.74" width="545.3" height="435.4"/></clipPath>
<path d="M1251.90,563.74V999.14M1313.14,563.74V999.14M1374.38,563.74V999.14M1435.62,563.74V999.14M1496.86,563.74V999.14M1558.10,563.74V999.14M1619.34,563.74V999.14M1680.58,563.74V999.14M1741.82,563.74V999.14M1221.2,961.34H1766.50M1221.2,922.10H1766.50M1221.2,882.87H1766.50M1221.2,843.63H1766.50M1221.2,804.39H1766.50M1221.2,765.16H1766.50M1221.2,725.92H1766.50M1221.2,686.69H1766.50M1221.2,647.46H1766.50M1221.2,608.22H1766.50M1221.2,568.99H1766.50" stroke="#ebebeb" stroke-width="2" fill="none"/>
<g clip-path="url(#cp4)" fill="none" stroke-linejoin="round" stroke-linecap="butt">
<polyline points="1245.8,783.8 1251.9,785.1 1258.0,784.4 1264.1,784.0 1270.3,779.3 1276.4,778.0 1282.5,775.5 1288.6,773.0 1294.8,770.6 1300.9,769.2 1307.0,767.2 1313.1,764.5 1319.3,762.3 1325.4,759.5 1331.5,756.7 1337.6,753.5 1343.8,751.0 1349.9,747.6 1356.0,744.0 1362.1,740.7 1368.3,737.4 1374.4,735.3 1380.5,730.9 1386.6,726.5 1392.8,724.8 1398.9,721.8 1405.0,721.5 1411.1,719.9 1417.2,717.6 1423.4,716.0 1429.5,715.2 1435.6,713.8 1441.7,712.7 1447.9,711.6 1454.0,709.9 1460.1,708.3 1466.2,706.6 1472.4,705.3 1478.5,703.2 1484.6,700.8 1490.7,701.2 1496.9,699.8 1503.0,696.7 1509.1,695.0 1515.2,693.9 1521.4,693.1 1527.5,690.2 1533.6,689.9 1539.7,686.9 1545.9,685.6 1552.0,683.7 1558.1,681.8 1564.2,679.6 1570.3,678.7 1576.5,677.7 1582.6,675.4 1588.7,674.4 1594.8,671.2 1601.0,669.0 1607.1,667.6 1613.2,665.9 1619.3,662.8 1625.5,661.1 1631.6,660.3 1637.7,657.6 1643.8,654.3 1650.0,652.6 1656.1,649.9 1662.2,647.7 1668.3,645.7 1674.5,643.9 1680.6,642.0 1686.7,639.0 1692.8,636.8 1699.0,634.7 1705.1,631.3 1711.2,628.9 1717.3,626.9 1723.4,624.1 1729.6,623.6 1735.7,618.1 1741.8,615.9" stroke="#965f96" stroke-width="3.8"/>
<polyline points="1245.8,784.0 1251.9,785.1 1258.0,784.4 1264.1,784.4 1270.3,780.2 1276.4,779.3 1282.5,777.3 1288.6,775.1 1294.8,773.5 1300.9,773.0 1307.0,772.6 1313.1,769.3 1319.3,767.2 1325.4,764.8 1331.5,761.9 1337.6,758.5 1343.8,755.6 1349.9,753.2 1356.0,749.8 1362.1,746.9 1368.3,743.6 1374.4,741.9 1380.5,738.1 1386.6,733.7 1392.8,732.0 1398.9,731.1 1405.0,730.3 1411.1,729.2 1417.2,728.7 1423.4,727.8 1429.5,727.0 1435.6,727.0 1441.7,726.5 1447.9,725.4 1454.0,724.5 1460.1,723.7 1466.2,724.3 1472.4,725.1 1478.5,722.9 1484.6,722.1 1490.7,722.1 1496.9,720.6 1503.0,722.1 1509.1,722.6 1515.2,721.7 1521.4,722.1 1527.5,721.1 1533.6,718.6 1539.7,720.7 1545.9,719.9 1552.0,721.7 1558.1,723.2 1564.2,725.1 1570.3,725.4 1576.5,722.9 1582.6,722.9 1588.7,723.2 1594.8,724.5 1601.0,726.2 1607.1,724.8 1613.2,725.7 1619.3,725.9 1625.5,726.9 1631.6,727.8 1637.7,728.9 1643.8,730.1 1650.0,738.9 1656.1,738.5 1662.2,738.9 1668.3,742.0 1674.5,751.0 1680.6,756.0 1686.7,761.2 1692.8,769.1 1699.0,786.5 1705.1,789.1 1711.2,804.9 1717.3,819.7 1723.4,830.1 1729.6,845.0 1735.7,854.6 1741.8,865.1" stroke="#d29062" stroke-width="3.8"/>
<polyline points="1245.8,783.8 1251.9,785.1 1258.0,784.4 1264.1,784.4 1270.3,780.2 1276.4,780.2 1282.5,778.8 1288.6,776.8 1294.8,775.9 1300.9,775.5 1307.0,775.5 1313.1,773.9 1319.3,772.5 1325.4,771.1 1331.5,770.1 1337.6,768.9 1343.8,768.3 1349.9,766.8 1356.0,765.6 1362.1,764.3 1368.3,763.1 1374.4,762.7 1380.5,762.1 1386.6,761.3 1392.8,759.8 1398.9,757.2 1405.0,756.3 1411.1,755.7 1417.2,753.5 1423.4,751.3 1429.5,750.8 1435.6,749.7 1441.7,748.6 1447.9,747.5 1454.0,746.2 1460.1,745.2 1466.2,744.4 1472.4,743.0 1478.5,741.4 1484.6,739.7 1490.7,739.4 1496.9,738.5 1503.0,735.3 1509.1,734.1 1515.2,733.0 1521.4,732.6 1527.5,730.2 1533.6,730.6 1539.7,728.0 1545.9,726.5 1552.0,725.3 1558.1,723.5 1564.2,721.0 1570.3,720.1 1576.5,719.1 1582.6,717.5 1588.7,716.5 1594.8,713.7 1601.0,711.8 1607.1,710.5 1613.2,709.0 1619.3,706.3 1625.5,705.0 1631.6,704.3 1637.7,702.1 1643.8,698.8 1650.0,697.4 1656.1,695.2 1662.2,693.3 1668.3,691.1 1674.5,689.4 1680.6,687.8 1686.7,685.0 1692.8,683.1 1699.0,681.5 1705.1,677.9 1711.2,676.3 1717.3,674.6 1723.4,672.7 1729.6,672.1 1735.7,667.5 1741.8,665.8" stroke="#0e4c8b" stroke-width="3.8"/>
<polyline points="1245.8,787.1 1251.9,789.0 1258.0,787.1 1264.1,786.7 1270.3,785.2 1276.4,785.5 1282.5,784.6 1288.6,780.9 1294.8,780.2 1300.9,780.2 1307.0,780.2 1313.1,778.4 1319.3,777.2 1325.4,775.9 1331.5,775.1 1337.6,774.3 1343.8,773.0 1349.9,772.5 1356.0,771.8 1362.1,770.3 1368.3,769.3 1374.4,769.6 1380.5,768.2 1386.6,766.8 1392.8,765.7 1398.9,765.2 1405.0,764.3 1411.1,763.8 1417.2,763.5 1423.4,763.0 1429.5,762.4 1435.6,761.9 1441.7,761.6 1447.9,760.8 1454.0,760.2 1460.1,759.1 1466.2,759.1 1472.4,759.4 1478.5,757.9 1484.6,757.4 1490.7,757.4 1496.9,756.9 1503.0,757.3 1509.1,758.0 1515.2,757.7 1521.4,757.7 1527.5,756.8 1533.6,754.9 1539.7,756.4 1545.9,756.5 1552.0,757.3 1558.1,759.1 1564.2,760.5 1570.3,760.8 1576.5,758.5 1582.6,758.5 1588.7,759.1 1594.8,759.8 1601.0,762.1 1607.1,759.7 1613.2,760.5 1619.3,760.7 1625.5,761.6 1631.6,762.5 1637.7,763.8 1643.8,765.0 1650.0,772.5 1656.1,772.0 1662.2,772.5 1668.3,775.1 1674.5,783.9 1680.6,788.2 1686.7,793.5 1692.8,800.5 1699.0,814.4 1705.1,816.2 1711.2,829.3 1717.3,843.2 1723.4,851.1 1729.6,864.2 1735.7,872.9 1741.8,881.6" stroke="#990000" stroke-width="3.8"/>
<polyline points="1245.8,877.1 1251.9,906.2 1258.0,893.7 1264.1,848.1 1270.3,805.2 1276.4,824.0 1282.5,843.1 1288.6,845.6 1294.8,819.5 1300.9,826.5 1307.0,837.0 1313.1,823.2 1319.3,815.4 1325.4,828.1 1331.5,855.4 1337.6,804.9 1343.8,814.8 1349.9,814.4 1356.0,818.1 1362.1,828.9 1368.3,811.5 1374.4,798.2 1380.5,784.1 1386.6,802.0 1392.8,775.0 1398.9,760.8 1405.0,746.7 1411.1,756.7 1417.2,769.9 1423.4,775.8 1429.5,757.3 1435.6,750.8 1441.7,753.0 1447.9,745.0 1454.0,754.9 1460.1,741.5 1466.2,741.2 1472.4,738.2 1478.5,729.6 1484.6,730.3 1490.7,737.3 1496.9,735.0 1503.0,741.6 1509.1,721.2 1515.2,711.2 1521.4,720.2 1527.5,724.0 1533.6,730.1 1539.7,704.9 1545.9,683.6 1552.0,694.1 1558.1,699.1 1564.2,710.2 1570.3,713.1 1576.5,706.4 1582.6,700.0 1588.7,696.3 1594.8,695.6 1601.0,686.1 1607.1,677.4 1613.2,678.5 1619.3,668.5 1625.5,669.9 1631.6,669.4 1637.7,658.4 1643.8,658.4 1650.0,653.4 1656.1,644.5 1662.2,647.3 1668.3,641.5 1674.5,636.9 1680.6,629.6 1686.7,626.3 1692.8,623.3 1699.0,618.3 1705.1,610.3 1711.2,617.4 1717.3,606.9 1723.4,594.7 1729.6,598.8 1735.7,594.7 1741.8,583.1" stroke="#aaaaaa" stroke-opacity="0.7" stroke-width="2.1"/>
<polyline points="1245.8,858.5 1251.9,886.2 1258.0,823.2 1264.1,818.5 1270.3,823.5 1276.4,790.3 1282.5,871.6 1288.6,861.4 1294.8,877.9 1300.9,836.6 1307.0,748.7 1313.1,849.8 1319.3,813.8 1325.4,789.6 1331.5,787.4 1337.6,794.9 1343.8,739.3 1349.9,734.9 1356.0,775.0 1362.1,775.4 1368.3,776.7 1374.4,790.3 1380.5,762.0 1386.6,734.6 1392.8,775.8 1398.9,763.4 1405.0,736.0 1411.1,750.0 1417.2,815.5 1423.4,776.5 1429.5,813.0 1435.6,760.7 1441.7,760.5 1447.9,764.4 1454.0,768.1 1460.1,779.7 1466.2,785.5 1472.4,759.4 1478.5,782.2 1484.6,744.1 1490.7,743.0 1496.9,786.2 1503.0,752.2 1509.1,779.6 1515.2,766.3 1521.4,769.9 1527.5,766.3 1533.6,751.3 1539.7,752.7 1545.9,759.3 1552.0,743.8 1558.1,709.1 1564.2,713.8 1570.3,735.5 1576.5,722.9 1582.6,728.7 1588.7,723.4 1594.8,729.6 1601.0,731.6 1607.1,715.5 1613.2,743.1 1619.3,724.6 1625.5,712.2 1631.6,731.9 1637.7,736.7 1643.8,719.1 1650.0,732.3 1656.1,700.8 1662.2,708.7 1668.3,708.7 1674.5,712.5 1680.6,698.0 1686.7,703.3 1692.8,682.1 1699.0,701.2 1705.1,681.4 1711.2,691.4 1717.3,663.8 1723.4,681.5 1729.6,687.5 1735.7,674.2 1741.8,679.5" stroke="#000000" stroke-opacity="0.71" stroke-width="2.1"/>
</g>
<path d="M1221.2,922.10H1766.50" stroke="#000" stroke-opacity="0.3" stroke-width="2" fill="none"/>
<rect x="1221.2" y="563.74" width="545.3" height="435.4" fill="none" stroke="#333" stroke-width="2"/>
<text transform="translate(1495.8,543.1) scale(1,1.04)" font-size="32" text-anchor="middle" fill="#000" stroke="#000">Adaptation 2°C</text>
<text transform="translate(1251.9,1039.9) scale(1,1.035)" font-size="28.5" text-anchor="middle" fill="#4d4d4d" stroke="#4d4d4d">2020</text>
<text transform="translate(1374.4,1039.9) scale(1,1.035)" font-size="28.5" text-anchor="middle" fill="#4d4d4d" stroke="#4d4d4d">2040</text>
<text transform="translate(1496.9,1039.9) scale(1,1.035)" font-size="28.5" text-anchor="middle" fill="#4d4d4d" stroke="#4d4d4d">2060</text>
<text transform="translate(1619.3,1039.9) scale(1,1.035)" font-size="28.5" text-anchor="middle" fill="#4d4d4d" stroke="#4d4d4d">2080</text>
<text transform="translate(1741.8,1039.9) scale(1,1.035)" font-size="28.5" text-anchor="middle" fill="#4d4d4d" stroke="#4d4d4d">2100</text>
<path d="M1251.90,999.14v9.7M1374.38,999.14v9.7M1496.86,999.14v9.7M1619.34,999.14v9.7M1741.82,999.14v9.7" stroke="#222" stroke-width="2.2"/>
</g>
<text transform="translate(929,1085.7) scale(1,1.04)" font-size="39" text-anchor="middle" fill="#000" stroke="#000">Year</text>
<text transform="translate(29.6,664.7) rotate(-90) scale(1,1.04)" font-size="40" fill="#000" stroke="#000">RAP<tspan font-size="29" dy="7" dx="-1.8">max</tspan><tspan dy="-7" dx="-3.5"> (</tspan><tspan dx="-1.3">mm</tspan><tspan dx="-1.2"> y</tspan><tspan font-size="27" dy="-14" dx="-1">-1</tspan><tspan dy="14" dx="-1.7">)</tspan></text>
<path d="M1267.4,136.0H1316.8" stroke="#0e4c8b" stroke-width="3.6"/>
<text transform="translate(1341.7,147.6) scale(1,1.04)" font-size="32" fill="#000" stroke="#000">SSP2-4.5</text>
<path d="M1267.4,183.9H1316.8" stroke="#965f96" stroke-width="3.6"/>
<text transform="translate(1341.7,195.5) scale(1,1.04)" font-size="32" fill="#000" stroke="#000">SSP2-4.5 + Restoration</text>
<path d="M1267.4,229.2H1316.8" stroke="#990000" stroke-width="3.6"/>
<text transform="translate(1341.7,240.8) scale(1,1.04)" font-size="32" fill="#000" stroke="#000">SSP5-8.5</text>
<path d="M1267.4,273.6H1316.8" stroke="#d29062" stroke-width="3.6"/>
<text transform="translate(1341.7,285.2) scale(1,1.04)" font-size="32" fill="#000" stroke="#000">SSP5-8.5 + Restoration</text>
<path d="M1267.4,357.1H1316.8" stroke="#000000" stroke-opacity="0.71" stroke-width="2"/>
<text transform="translate(1341.7,368.7) scale(1,1.04)" font-size="32" fill="#000" stroke="#000">HR-CESM</text>
<path d="M1267.4,404.5H1316.8" stroke="#aaaaaa" stroke-opacity="0.7" stroke-width="2"/>
<text transform="translate(1341.7,416.1) scale(1,1.04)" font-size="32" fill="#000" stroke="#000">LR-CESM</text>
</svg></body></html>
